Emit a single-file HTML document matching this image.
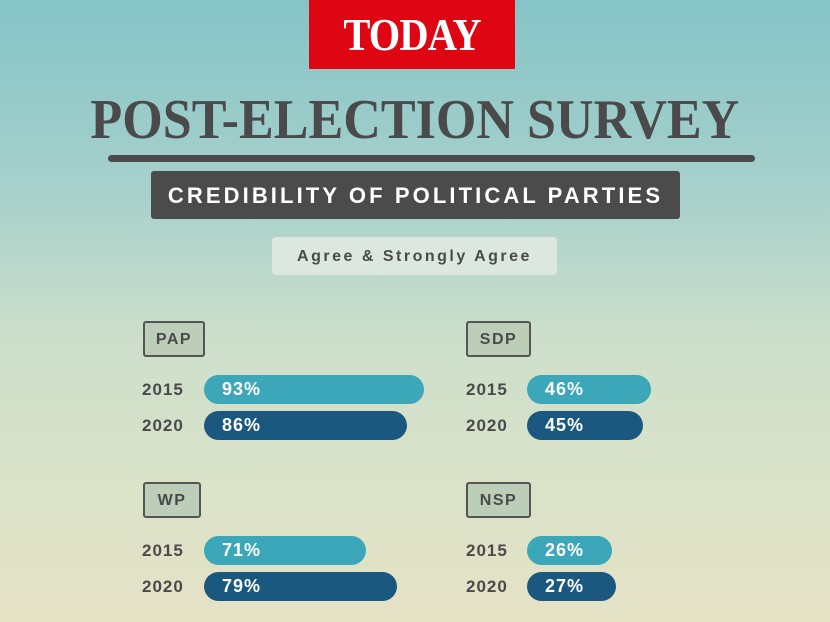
<!DOCTYPE html>
<html><head><style>
*{margin:0;padding:0;box-sizing:border-box}
body{width:830px;height:622px;overflow:hidden;position:relative;font-family:"Liberation Sans",sans-serif;
background:linear-gradient(180deg,#85c4c7 0%,#a6d0cb 30%,#cddfcb 55%,#dbe2c8 80%,#e5e2c5 100%)}
.a{position:absolute}
.logo{left:309px;top:0;width:206px;height:69px;background:#df0614;color:#fff;font-family:"Liberation Serif",serif;font-size:46px;font-weight:bold;text-align:center;line-height:70px;letter-spacing:-1px}
.title{left:0;width:830px;top:90px;text-align:center;font-family:"Liberation Serif",serif;font-weight:bold;font-size:56px;color:#4a4a4a;line-height:60px}
.rule{left:108px;top:155px;width:647px;height:7px;border-radius:4px;background:#4a4a4a}
.dark{left:151px;top:171px;width:529px;height:48px;background:#4b4b4b;border-radius:3px;color:#fff;font-weight:bold;font-size:22px;letter-spacing:3.1px;text-align:center;line-height:49px}
.light{left:272px;top:237px;width:285px;height:38px;background:#dce8df;border-radius:4px;color:#4a4a4a;font-weight:bold;font-size:16px;letter-spacing:2.5px;text-align:center;line-height:39px}
.lab{height:36px;background:#bccdb8;border:2px solid #555;border-radius:3px;color:#4a4a4a;font-weight:bold;font-size:16px;letter-spacing:1.5px;text-align:center;line-height:34px}
.yr{color:#4a4a4a;font-weight:bold;font-size:17px;letter-spacing:1px;line-height:29px}
.bar{height:29px;border-radius:15px;color:#fff;font-weight:bold;font-size:18px;letter-spacing:1px;line-height:29px;padding-left:18px}
.l{background:#3ba7b8}.d{background:#1a5880}
</style></head><body>
<div class="a logo"><span style="display:inline-block;transform:scaleX(0.88)">TODAY</span></div>
<div class="a title"><span style="display:inline-block;transform:scaleX(0.93)">POST-ELECTION SURVEY</span></div>
<div class="a rule"></div>
<div class="a dark">CREDIBILITY OF POLITICAL PARTIES</div>
<div class="a light">Agree &amp; Strongly Agree</div>

<div class="a lab" style="left:143px;top:321px;width:62px">PAP</div>
<div class="a yr" style="left:142px;top:375px">2015</div>
<div class="a yr" style="left:142px;top:411px">2020</div>
<div class="a bar l" style="left:204px;top:375px;width:220px">93%</div>
<div class="a bar d" style="left:204px;top:411px;width:203px">86%</div>

<div class="a lab" style="left:466px;top:321px;width:65px">SDP</div>
<div class="a yr" style="left:466px;top:375px">2015</div>
<div class="a yr" style="left:466px;top:411px">2020</div>
<div class="a bar l" style="left:527px;top:375px;width:124px">46%</div>
<div class="a bar d" style="left:527px;top:411px;width:116px">45%</div>

<div class="a lab" style="left:143px;top:482px;width:58px">WP</div>
<div class="a yr" style="left:142px;top:536px">2015</div>
<div class="a yr" style="left:142px;top:572px">2020</div>
<div class="a bar l" style="left:204px;top:536px;width:162px">71%</div>
<div class="a bar d" style="left:204px;top:572px;width:193px">79%</div>

<div class="a lab" style="left:466px;top:482px;width:65px">NSP</div>
<div class="a yr" style="left:466px;top:536px">2015</div>
<div class="a yr" style="left:466px;top:572px">2020</div>
<div class="a bar l" style="left:527px;top:536px;width:85px">26%</div>
<div class="a bar d" style="left:527px;top:572px;width:89px">27%</div>
</body></html>
